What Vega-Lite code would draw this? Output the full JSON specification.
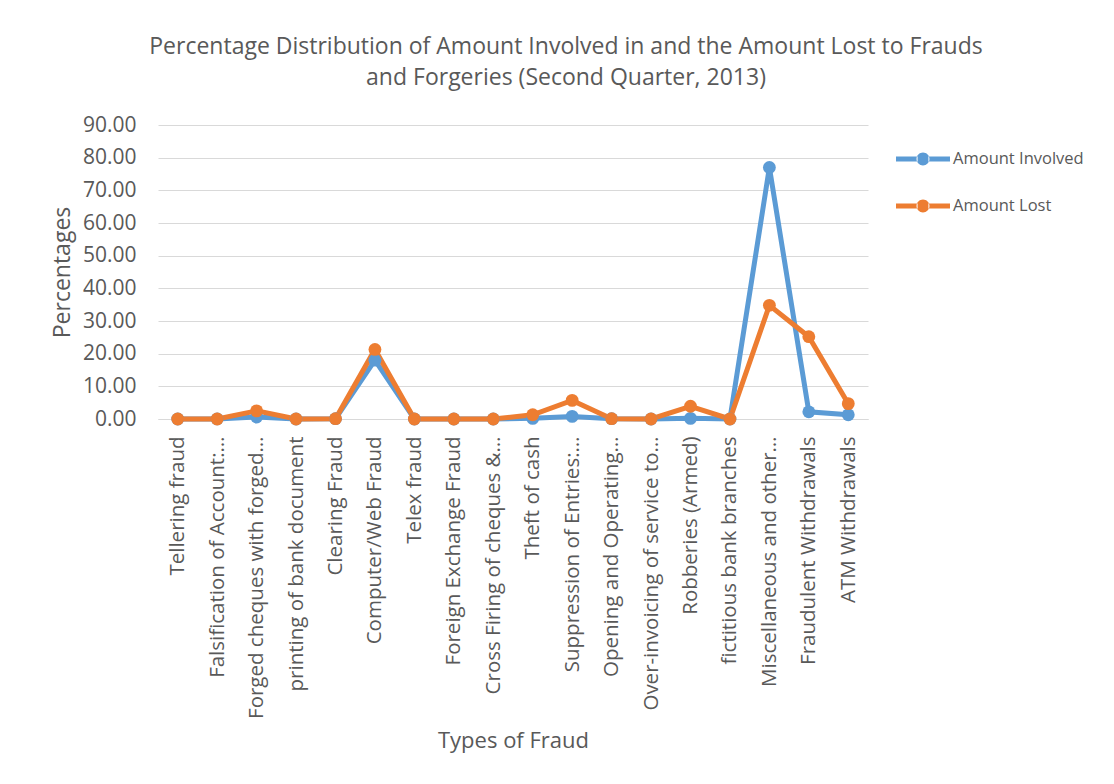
{
  "$schema": "https://vega.github.io/schema/vega-lite/v6.json",
  "autosize": "none",
  "width": 710,
  "height": 294,
  "padding": {"left": 158, "top": 125, "right": 246, "bottom": 365},
  "background": "white",
  "title": {
    "text": ["Percentage Distribution of Amount Involved in and the Amount Lost to Frauds", "and Forgeries (Second Quarter, 2013)"],
    "anchor": "middle",
    "dx": 53,
    "offset": 24,
    "font": "Open Sans",
    "fontSize": 23,
    "fontWeight": "normal",
    "lineHeight": 31,
    "color": "#595959"
  },
  "data": {
    "values": [
      {"fraud": "Tellering fraud", "series": "Amount Involved", "pct": 0.0},
      {"fraud": "Tellering fraud", "series": "Amount Lost", "pct": 0.0},
      {"fraud": "Falsification of Account:…", "series": "Amount Involved", "pct": 0.02},
      {"fraud": "Falsification of Account:…", "series": "Amount Lost", "pct": 0.0},
      {"fraud": "Forged cheques with forged…", "series": "Amount Involved", "pct": 0.6},
      {"fraud": "Forged cheques with forged…", "series": "Amount Lost", "pct": 2.5},
      {"fraud": "printing of bank document", "series": "Amount Involved", "pct": 0.0},
      {"fraud": "printing of bank document", "series": "Amount Lost", "pct": 0.0},
      {"fraud": "Clearing Fraud", "series": "Amount Involved", "pct": 0.1},
      {"fraud": "Clearing Fraud", "series": "Amount Lost", "pct": 0.1},
      {"fraud": "Computer/Web Fraud", "series": "Amount Involved", "pct": 18.0},
      {"fraud": "Computer/Web Fraud", "series": "Amount Lost", "pct": 21.3},
      {"fraud": "Telex fraud", "series": "Amount Involved", "pct": 0.0},
      {"fraud": "Telex fraud", "series": "Amount Lost", "pct": 0.0},
      {"fraud": "Foreign Exchange Fraud", "series": "Amount Involved", "pct": 0.0},
      {"fraud": "Foreign Exchange Fraud", "series": "Amount Lost", "pct": 0.0},
      {"fraud": "Cross Firing of cheques &…", "series": "Amount Involved", "pct": 0.0},
      {"fraud": "Cross Firing of cheques &…", "series": "Amount Lost", "pct": 0.0},
      {"fraud": "Theft of cash", "series": "Amount Involved", "pct": 0.2},
      {"fraud": "Theft of cash", "series": "Amount Lost", "pct": 1.3},
      {"fraud": "Suppression of Entries:…", "series": "Amount Involved", "pct": 0.8},
      {"fraud": "Suppression of Entries:…", "series": "Amount Lost", "pct": 5.7},
      {"fraud": "Opening and Operating…", "series": "Amount Involved", "pct": 0.1},
      {"fraud": "Opening and Operating…", "series": "Amount Lost", "pct": 0.1},
      {"fraud": "Over-invoicing of service to…", "series": "Amount Involved", "pct": 0.0},
      {"fraud": "Over-invoicing of service to…", "series": "Amount Lost", "pct": 0.0},
      {"fraud": "Robberies (Armed)", "series": "Amount Involved", "pct": 0.2},
      {"fraud": "Robberies (Armed)", "series": "Amount Lost", "pct": 3.9},
      {"fraud": "fictitious bank branches", "series": "Amount Involved", "pct": 0.0},
      {"fraud": "fictitious bank branches", "series": "Amount Lost", "pct": 0.0},
      {"fraud": "Miscellaneous and other…", "series": "Amount Involved", "pct": 77.0},
      {"fraud": "Miscellaneous and other…", "series": "Amount Lost", "pct": 34.8},
      {"fraud": "Fraudulent Withdrawals", "series": "Amount Involved", "pct": 2.2},
      {"fraud": "Fraudulent Withdrawals", "series": "Amount Lost", "pct": 25.2},
      {"fraud": "ATM Withdrawals", "series": "Amount Involved", "pct": 1.3},
      {"fraud": "ATM Withdrawals", "series": "Amount Lost", "pct": 4.7}
    ]
  },
  "mark": {
    "type": "line",
    "strokeWidth": 5,
    "point": {"filled": true, "size": 165, "opacity": 1}
  },
  "encoding": {
    "x": {
      "field": "fraud",
      "type": "nominal",
      "sort": null,
      "scale": {"type": "point", "padding": 0.5},
      "axis": {
        "title": "Types of Fraud",
        "titleFont": "Open Sans",
        "titleFontSize": 22,
        "titleFontWeight": "normal",
        "titleColor": "#595959",
        "titleBaseline": "alphabetic",
        "titleY": 328,
        "labelAngle": -90,
        "labelFont": "Open Sans",
        "labelFontSize": 20.5,
        "labelColor": "#595959",
        "labelPadding": 17,
        "labelLimit": 400,
        "ticks": false,
        "grid": false,
        "domain": true,
        "domainColor": "#d9d9d9",
        "domainWidth": 1
      }
    },
    "y": {
      "field": "pct",
      "type": "quantitative",
      "scale": {"domain": [0, 90], "nice": false},
      "axis": {
        "title": "Percentages",
        "titleFont": "Open Sans",
        "titleFontSize": 23,
        "titleFontWeight": "normal",
        "titleColor": "#595959",
        "titlePadding": 8,
        "values": [0, 10, 20, 30, 40, 50, 60, 70, 80, 90],
        "format": ".2f",
        "labelFont": "Open Sans",
        "labelFontSize": 21,
        "labelColor": "#595959",
        "labelPadding": 22,
        "ticks": false,
        "domain": false,
        "grid": true,
        "gridColor": "#d9d9d9",
        "gridWidth": 1
      }
    },
    "color": {
      "field": "series",
      "type": "nominal",
      "scale": {"domain": ["Amount Involved", "Amount Lost"], "range": ["#5B9BD5", "#ED7D31"]},
      "legend": {
        "title": null,
        "orient": "none",
        "legendX": 738,
        "legendY": 7,
        "rowPadding": 11,
        "labelFont": "Open Sans",
        "labelFontSize": 16.5,
        "labelColor": "#595959",
        "labelOffset": 3,
        "symbolType": "M-1,-0.09H-0.2V0.09H-1Z M0.2,-0.09H1V0.09H0.2Z M-0.24,0A0.24,0.24 0 1,0 0.24,0A0.24,0.24 0 1,0 -0.24,0Z",
        "symbolSize": 2916,
        "symbolStrokeWidth": 0,
        "encode": {
          "symbols": {"update": {"fill": {"scale": "color", "field": "value"}, "fillOpacity": {"value": 1}, "strokeWidth": {"value": 0}}}
        }
      }
    }
  },
  "config": {
    "view": {"stroke": null}
  }
}
